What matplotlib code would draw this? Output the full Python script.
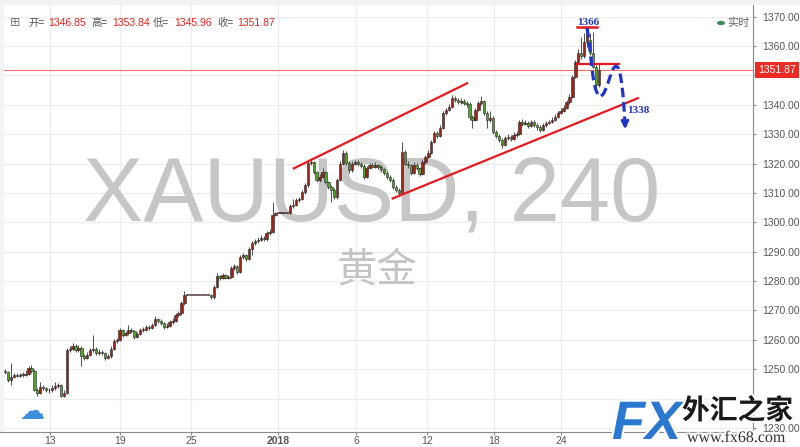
import numpy as np
import matplotlib
matplotlib.use("Agg")
import matplotlib.pyplot as plt
import matplotlib.patheffects as pe
from matplotlib.patches import Rectangle, Circle

# ---------------- data (4H XAUUSD candles) ----------------
opens = [
    1249.5, 1249.0, 1246.5, 1247.5, 1248.0, 1247.8, 1248.2, 1248.0, 1248.5, 1250.5,
    1249.5, 1243.0, 1241.8, 1244.0, 1243.5, 1243.0, 1242.8, 1243.5, 1244.2, 1244.5,
    1241.0, 1242.0, 1256.5, 1257.0, 1258.0, 1256.5, 1257.2, 1254.5, 1254.0, 1255.0,
    1256.5, 1257.0, 1255.5, 1256.0, 1255.5, 1254.0, 1254.5, 1257.0, 1259.5, 1260.0,
    1263.3, 1261.8, 1262.3, 1263.5, 1263.0, 1261.0, 1262.0, 1263.3, 1263.5, 1264.4,
    1264.0, 1265.0, 1267.0, 1266.5, 1265.7, 1264.4, 1264.8, 1266.0, 1266.5, 1268.4,
    1269.0, 1272.5, 1275.2, 1275.2, 1275.2, 1275.2, 1275.2, 1275.2, 1275.2, 1275.2,
    1275.2, 1274.5, 1278.0, 1281.7, 1281.0, 1282.0, 1281.2, 1281.5, 1284.4, 1285.0,
    1283.2, 1288.2, 1288.8, 1287.6, 1290.9, 1293.0, 1293.5, 1294.0, 1294.7, 1294.2,
    1296.4, 1296.8, 1302.5, 1303.2, 1303.2, 1303.2, 1303.2, 1303.2, 1305.5, 1306.0,
    1307.6, 1308.0, 1310.3, 1312.7, 1320.2, 1320.6, 1317.0, 1314.4, 1315.4, 1317.0,
    1313.7, 1312.0, 1311.0, 1308.5, 1314.4, 1320.0, 1323.7, 1320.2, 1317.8, 1320.0,
    1320.5, 1320.0, 1319.2, 1315.4, 1318.5, 1319.5, 1319.0, 1319.5, 1318.8, 1318.0,
    1316.8, 1315.5, 1314.4, 1312.0, 1311.0, 1310.0, 1324.0, 1320.0, 1319.5, 1316.8,
    1319.5, 1318.5, 1316.5, 1320.6, 1322.3, 1323.7, 1327.4, 1330.4, 1329.5, 1332.2,
    1337.3, 1338.3, 1339.3, 1342.4, 1341.7, 1341.0, 1341.4, 1340.7, 1340.2, 1335.9,
    1334.9, 1338.3, 1340.7, 1341.2, 1337.3, 1334.9, 1335.6, 1330.8, 1329.5, 1328.0,
    1326.4, 1328.7, 1329.0, 1328.5, 1329.8, 1330.0, 1334.2, 1333.5, 1333.9, 1332.8,
    1334.2, 1333.2, 1332.5, 1331.5, 1333.0, 1333.9, 1334.2, 1335.0, 1336.0, 1337.3,
    1338.0, 1339.0, 1341.0, 1342.7, 1349.5, 1354.7, 1357.7, 1356.5, 1361.5, 1362.0,
    1357.7, 1353.0, 1346.85,
]
highs = [
    1250.0, 1249.5, 1252.0, 1248.8, 1248.6, 1248.8, 1248.9, 1249.8, 1251.2, 1251.5,
    1250.0, 1243.6, 1245.8, 1244.6, 1244.0, 1243.6, 1244.8, 1245.5, 1245.2, 1245.0,
    1243.0, 1257.2, 1258.0, 1259.0, 1258.6, 1258.2, 1257.8, 1255.2, 1256.0, 1257.3,
    1261.6, 1257.6, 1256.8, 1256.6, 1256.0, 1255.3, 1257.8, 1260.3, 1260.8, 1264.0,
    1263.8, 1263.0, 1265.0, 1264.2, 1263.5, 1262.8, 1264.0, 1264.3, 1265.2, 1265.0,
    1265.8, 1268.2, 1267.6, 1267.0, 1266.0, 1265.6, 1266.8, 1267.3, 1269.2, 1269.8,
    1273.2, 1276.6, 1275.2, 1275.2, 1275.2, 1275.2, 1275.2, 1275.2, 1275.2, 1275.2,
    1275.6, 1278.8, 1282.6, 1282.2, 1282.8, 1282.5, 1282.2, 1285.2, 1285.8, 1285.5,
    1289.0, 1289.6, 1289.4, 1291.6, 1293.8, 1294.3, 1295.0, 1295.6, 1295.4, 1297.2,
    1297.6, 1307.0, 1303.6, 1303.2, 1303.2, 1303.2, 1303.2, 1306.2, 1308.0, 1308.4,
    1308.8, 1311.0, 1313.4, 1321.0, 1322.0, 1321.0, 1317.6, 1316.4, 1318.4, 1317.6,
    1314.2, 1312.6, 1311.6, 1315.0, 1320.8, 1324.6, 1324.2, 1320.8, 1320.8, 1321.3,
    1321.2, 1320.6, 1319.8, 1319.2, 1320.3, 1320.2, 1320.4, 1320.0, 1319.4, 1318.6,
    1317.4, 1316.2, 1315.0, 1312.6, 1311.6, 1327.4, 1324.6, 1320.8, 1320.0, 1320.4,
    1320.2, 1319.0, 1321.4, 1323.0, 1324.6, 1328.2, 1331.2, 1331.0, 1333.0, 1338.0,
    1339.0, 1340.2, 1343.4, 1343.0, 1342.2, 1342.2, 1342.0, 1341.4, 1340.8, 1336.6,
    1339.0, 1341.4, 1343.0, 1341.8, 1338.0, 1338.0, 1336.2, 1331.5, 1330.2, 1328.6,
    1329.4, 1330.0, 1329.8, 1330.6, 1331.0, 1335.0, 1335.2, 1334.8, 1334.6, 1335.0,
    1335.0, 1333.8, 1333.0, 1333.8, 1334.6, 1335.0, 1335.8, 1336.8, 1338.0, 1338.8,
    1339.8, 1341.8, 1343.6, 1350.2, 1355.4, 1359.0, 1363.0, 1364.5, 1366.2, 1364.5,
    1364.9, 1353.6, 1353.84,
]
lows = [
    1248.5, 1245.5, 1244.5, 1247.0, 1247.2, 1247.4, 1247.5, 1247.6, 1248.0, 1248.8,
    1242.5, 1241.0, 1241.5, 1242.8, 1242.2, 1241.8, 1242.3, 1243.0, 1243.6, 1240.5,
    1240.4, 1241.6, 1255.8, 1256.4, 1255.8, 1256.0, 1251.0, 1253.2, 1253.6, 1254.6,
    1256.0, 1254.8, 1255.0, 1254.8, 1253.2, 1253.5, 1254.0, 1256.6, 1259.0, 1259.6,
    1261.0, 1261.2, 1261.8, 1262.4, 1260.2, 1260.6, 1261.6, 1262.8, 1263.0, 1263.4,
    1263.6, 1264.6, 1265.8, 1265.0, 1263.6, 1264.0, 1264.4, 1265.5, 1266.0, 1267.8,
    1268.6, 1272.0, 1275.2, 1275.2, 1275.2, 1275.2, 1275.2, 1275.2, 1275.2, 1275.2,
    1273.8, 1274.0, 1277.6, 1280.4, 1280.6, 1280.6, 1280.8, 1281.0, 1283.8, 1282.5,
    1282.8, 1287.6, 1287.0, 1287.2, 1288.8, 1292.4, 1293.0, 1293.6, 1293.6, 1293.8,
    1295.8, 1296.4, 1302.2, 1303.2, 1303.2, 1303.2, 1303.2, 1302.8, 1305.0, 1305.6,
    1307.0, 1307.6, 1309.8, 1312.2, 1319.4, 1316.4, 1313.6, 1313.8, 1315.0, 1313.0,
    1311.2, 1307.0, 1307.8, 1308.0, 1314.0, 1319.6, 1319.6, 1316.8, 1317.2, 1319.4,
    1319.2, 1318.6, 1314.6, 1315.0, 1318.0, 1318.4, 1318.6, 1318.2, 1317.4, 1316.0,
    1314.8, 1313.6, 1311.2, 1310.2, 1309.4, 1309.6, 1319.4, 1318.6, 1316.0, 1316.4,
    1317.8, 1315.8, 1316.0, 1320.0, 1321.8, 1323.2, 1327.0, 1328.8, 1329.0, 1331.8,
    1336.6, 1337.8, 1338.8, 1341.0, 1340.4, 1340.4, 1340.0, 1339.4, 1335.0, 1332.0,
    1334.4, 1337.8, 1340.0, 1336.6, 1332.0, 1334.2, 1330.0, 1328.8, 1327.2, 1325.3,
    1326.0, 1328.0, 1327.6, 1328.0, 1329.0, 1329.6, 1332.8, 1333.0, 1332.0, 1332.4,
    1332.6, 1331.4, 1330.6, 1331.0, 1332.6, 1333.4, 1333.8, 1334.6, 1335.6, 1336.8,
    1337.4, 1338.6, 1340.2, 1342.2, 1349.0, 1354.2, 1355.6, 1356.0, 1359.8, 1357.0,
    1352.4, 1346.0, 1345.96,
]
closes = [
    1249.0, 1246.5, 1247.5, 1248.0, 1247.8, 1248.2, 1248.0, 1248.5, 1250.5, 1249.5,
    1243.0, 1241.8, 1244.0, 1243.5, 1243.0, 1242.8, 1243.5, 1244.2, 1244.5, 1241.0,
    1242.0, 1256.5, 1257.0, 1258.0, 1256.5, 1257.2, 1254.5, 1254.0, 1255.0, 1256.5,
    1257.0, 1255.5, 1256.0, 1255.5, 1254.0, 1254.5, 1257.0, 1259.5, 1260.0, 1263.3,
    1261.8, 1262.3, 1263.5, 1263.0, 1261.0, 1262.0, 1263.3, 1263.5, 1264.4, 1264.0,
    1265.0, 1267.0, 1266.5, 1265.7, 1264.4, 1264.8, 1266.0, 1266.5, 1268.4, 1269.0,
    1272.5, 1275.2, 1275.2, 1275.2, 1275.2, 1275.2, 1275.2, 1275.2, 1275.2, 1275.2,
    1274.5, 1278.0, 1281.7, 1281.0, 1282.0, 1281.2, 1281.5, 1284.4, 1285.0, 1283.2,
    1288.2, 1288.8, 1287.6, 1290.9, 1293.0, 1293.5, 1294.0, 1294.7, 1294.2, 1296.4,
    1296.8, 1302.5, 1303.2, 1303.2, 1303.2, 1303.2, 1303.2, 1305.5, 1306.0, 1307.6,
    1308.0, 1310.3, 1312.7, 1320.2, 1320.6, 1317.0, 1314.4, 1315.4, 1317.0, 1313.7,
    1312.0, 1311.0, 1308.5, 1314.4, 1320.0, 1323.7, 1320.2, 1317.8, 1320.0, 1320.5,
    1320.0, 1319.2, 1315.4, 1318.5, 1319.5, 1319.0, 1319.5, 1318.8, 1318.0, 1316.8,
    1315.5, 1314.4, 1312.0, 1311.0, 1310.0, 1324.0, 1320.0, 1319.5, 1316.8, 1319.5,
    1318.5, 1316.5, 1320.6, 1322.3, 1323.7, 1327.4, 1330.4, 1329.5, 1332.2, 1337.3,
    1338.3, 1339.3, 1342.4, 1341.7, 1341.0, 1341.4, 1340.7, 1340.2, 1335.9, 1334.9,
    1338.3, 1340.7, 1341.2, 1337.3, 1334.9, 1335.6, 1330.8, 1329.5, 1328.0, 1326.4,
    1328.7, 1329.0, 1328.5, 1329.8, 1330.0, 1334.2, 1333.5, 1333.9, 1332.8, 1334.2,
    1333.2, 1332.5, 1331.5, 1333.0, 1333.9, 1334.2, 1335.0, 1336.0, 1337.3, 1338.0,
    1339.0, 1341.0, 1342.7, 1349.5, 1354.7, 1357.7, 1356.5, 1361.5, 1364.5, 1357.7,
    1353.0, 1346.8, 1351.87,
]

x_tick_labels = ["13", "19", "25", "2018", "6", "12", "18", "24"]
x_tick_pos = [15.3, 39.1, 63.3, 93.0, 119.4, 143.5, 166.3, 189.1]
y_ticks = [1230, 1240, 1250, 1260, 1270, 1280, 1290, 1300, 1310, 1320, 1330, 1340, 1350, 1360, 1370]
hidden_y_labels = [1240, 1350]   # covered by the logo / the price tag in the picture

header_labels = ["开=", "高=", "低=", "收="]
header_values = ["1346.85", "1353.84", "1345.96", "1351.87"]
last_price = 1351.87

# drawn annotations (index, price)
upper_channel = ([97.9, 157.5], [1318.2, 1347.5])
lower_channel = ([131.5, 215.6], [1308.0, 1342.4])
top_line = ([194.6, 201.4], [1366.6, 1366.6])
mid_line = ([194.6, 208.8], [1353.8, 1353.8])
path_px = [(587, 28), (589, 40), (590.5, 55), (592, 68), (593.5, 80), (595.5, 89),
           (598, 95), (601, 96.5), (604, 93), (607, 86), (610, 77), (613, 69),
           (615.5, 66), (618, 67.5), (620, 73), (621.5, 82), (623, 95),
           (624.2, 110), (625, 124)]

# ---------------- figure ----------------
W, H = 800, 447
fig = plt.figure(figsize=(W / 100, H / 100), dpi=100, facecolor="white")
ax_right_px, ax_bottom_px, ax_top_px = 753, 432, 5
ax = fig.add_axes([0, 1 - ax_bottom_px / H, ax_right_px / W, (ax_bottom_px - ax_top_px) / H])
ax.set_facecolor("white")

px_per_idx = 2.94
x0_px = 5.0
y_scale = 2.938  # px per price unit
y1370 = 16.7

def px2idx(px):
    return (px - x0_px) / px_per_idx

def py2price(py):
    return 1370 - (py - y1370) / y_scale

ax.set_xlim(px2idx(0), px2idx(ax_right_px))
ax.set_ylim(py2price(ax_bottom_px), py2price(ax_top_px))

# grid
for yv in y_ticks:
    ax.axhline(yv, color="#ececec", lw=0.8, zorder=0)
for xv in x_tick_pos:
    ax.axvline(xv, color="#ececec", lw=0.8, zorder=0)

# watermark
ax.text(372 / W, 1 - 220 / H, "XAUUSD, 240", transform=fig.transFigure, ha="center",
        va="baseline", fontsize=65, color="#c6c6c6", family="Liberation Sans", zorder=1)
ax.text(377 / W, 1 - 270 / H, "黄金", transform=fig.transFigure, ha="center", va="center",
        fontsize=29, color="#c4c4c4", family=["Noto Sans CJK SC", "DejaVu Sans"], zorder=1)

# candles
o = np.array(opens); c = np.array(closes); h = np.array(highs); l = np.array(lows)
xs = np.arange(len(c))
up = c >= o
ax.vlines(xs, l, h, color="#555555", lw=0.75, zorder=3)
bottoms = np.minimum(o, c)
heights = np.maximum(np.abs(c - o), 0.25)
cols = np.where(up, "#9a2418", "#4fa32c")
ax.bar(xs, heights, bottom=bottoms, width=0.8, color=cols, edgecolor="#262626",
       linewidth=0.4, zorder=4)

# current price line
ax.axhline(last_price, color="#f07070", lw=0.8, zorder=2)

# channel & level lines
ax.plot(*upper_channel, color="#e8191e", lw=1.6, zorder=5, solid_capstyle="butt")
ax.plot(*lower_channel, color="#e8191e", lw=1.6, zorder=5, solid_capstyle="butt")
ax.plot(*top_line, color="#e8191e", lw=1.8, zorder=5)
ax.plot(*mid_line, color="#e8191e", lw=1.6, zorder=5)

# blue dashed forecast path
bx = [px2idx(p[0]) for p in path_px]
by = [py2price(p[1]) for p in path_px]
ax.plot(bx, by, color="#1f35c8", lw=2.3, ls=(0, (3, 1.5)), zorder=6)
ax.annotate("", xy=(px2idx(625.2), py2price(132)), xytext=(px2idx(625), py2price(122)),
            arrowprops=dict(arrowstyle="->", color="#1f35c8", lw=2.2, mutation_scale=10),
            zorder=6)
ax.text(px2idx(588), py2price(22.5), "1366", color="#1f35c8", fontsize=8, fontweight="bold",
        family="Liberation Serif", ha="center", va="center", zorder=7)
ax.text(px2idx(627), py2price(110.5), "1338", color="#1f35c8", fontsize=8, fontweight="bold",
        family="Liberation Serif", ha="left", va="center", zorder=7)

# axes styling
for s in ["top", "left"]:
    ax.spines[s].set_visible(False)
ax.spines["right"].set_color("#8a8a8a")
ax.spines["bottom"].set_color("#8a8a8a")
ax.yaxis.tick_right()
ax.set_yticks(y_ticks)
ax.set_yticklabels(["" if v in hidden_y_labels else f"{v:.2f}" for v in y_ticks])
ax.tick_params(axis="y", colors="#8a8a8a", labelcolor="#555555", labelsize=7.5,
               length=2.5, pad=4)
ax.set_xticks(x_tick_pos)
ax.set_xticklabels(x_tick_labels)
ax.tick_params(axis="x", colors="#8a8a8a", labelcolor="#555555", labelsize=7.5,
               length=2.0, pad=1.0)
for lab in ax.get_xticklabels():
    lab.set_family("Liberation Sans")
    if lab.get_text() == "2018":
        lab.set_fontweight("bold")
for lab in ax.get_yticklabels():
    lab.set_family("Liberation Sans")

# last price tag
ax.text(1 + 5 / ax_right_px, last_price, f"{last_price:.2f}", transform=ax.get_yaxis_transform(),
        ha="left", va="center", color="white", fontsize=7.5, family="Liberation Sans",
        clip_on=False, zorder=10,
        bbox=dict(boxstyle="square,pad=0.32", fc="#ee2a24", ec="none"))

# header strip
fig.patches.append(Rectangle((0, 1 - 5 / H), 1, 5 / H, transform=fig.transFigure,
                             fc="#f2f2f2", ec="none", zorder=0))
fig.patches.append(Rectangle((0, 1 - 432 / H), 4 / W, 427 / H, transform=fig.transFigure,
                             fc="#f4f4f4", ec="none", zorder=0))

# header OHLC
hy = 1 - 23 / H
fig.text(10 / W, hy, "⊞", fontsize=9, color="#777777", va="center", ha="left",
         family="DejaVu Sans")
lab_x = [28, 91, 153, 217]
val_x = [48, 112, 174, 237]
for lx, vx, lt, vt in zip(lab_x, val_x, header_labels, header_values):
    fig.text(lx / W, hy, lt, fontsize=7.5, color="#555555", va="center", ha="left",
             family=["Noto Sans CJK SC", "DejaVu Sans"])
    fig.text(vx / W, hy, vt, fontsize=7.5, color="#e8201c", va="center", ha="left",
             family="Liberation Sans")

# realtime badge
fig.patches.append(Circle((721 / W, 1 - 23 / H), 4 / W, transform=fig.transFigure,
                          fc="#3d8c5a", ec="none"))
fig.text(727 / W, 1 - 23 / H, "实时", fontsize=8, color="#666666", va="center", ha="left",
         family=["Noto Sans CJK SC", "DejaVu Sans"])

# bottom-left icon
fig.text(32 / W, 1 - 412 / H, "☁", fontsize=18, color="#3d8fdc", ha="center", va="center",
         family="DejaVu Sans")

# watermark logo bottom-right
stroke = [pe.withStroke(linewidth=3, foreground="white")]
fig.text(612 / W, 1 - 439 / H, "FX", fontsize=39, color="#2a78d0", fontweight="bold",
         fontstyle="italic", family="Liberation Sans", ha="left", va="baseline",
         path_effects=stroke, zorder=20)
fig.text(682 / W, 1 - 411 / H, "外汇之家", fontsize=20, color="#1a1a1a", fontweight="bold",
         family=["Noto Sans CJK SC", "DejaVu Sans"], ha="left", va="center",
         path_effects=stroke, zorder=20)
fig.text(687 / W, 1 - 442 / H, "www.fx68.com", fontsize=11.5, color="#333333",
         family="Liberation Serif", ha="left", va="baseline", path_effects=stroke, zorder=20)

fig.savefig("out.png", dpi=100, facecolor="white")
